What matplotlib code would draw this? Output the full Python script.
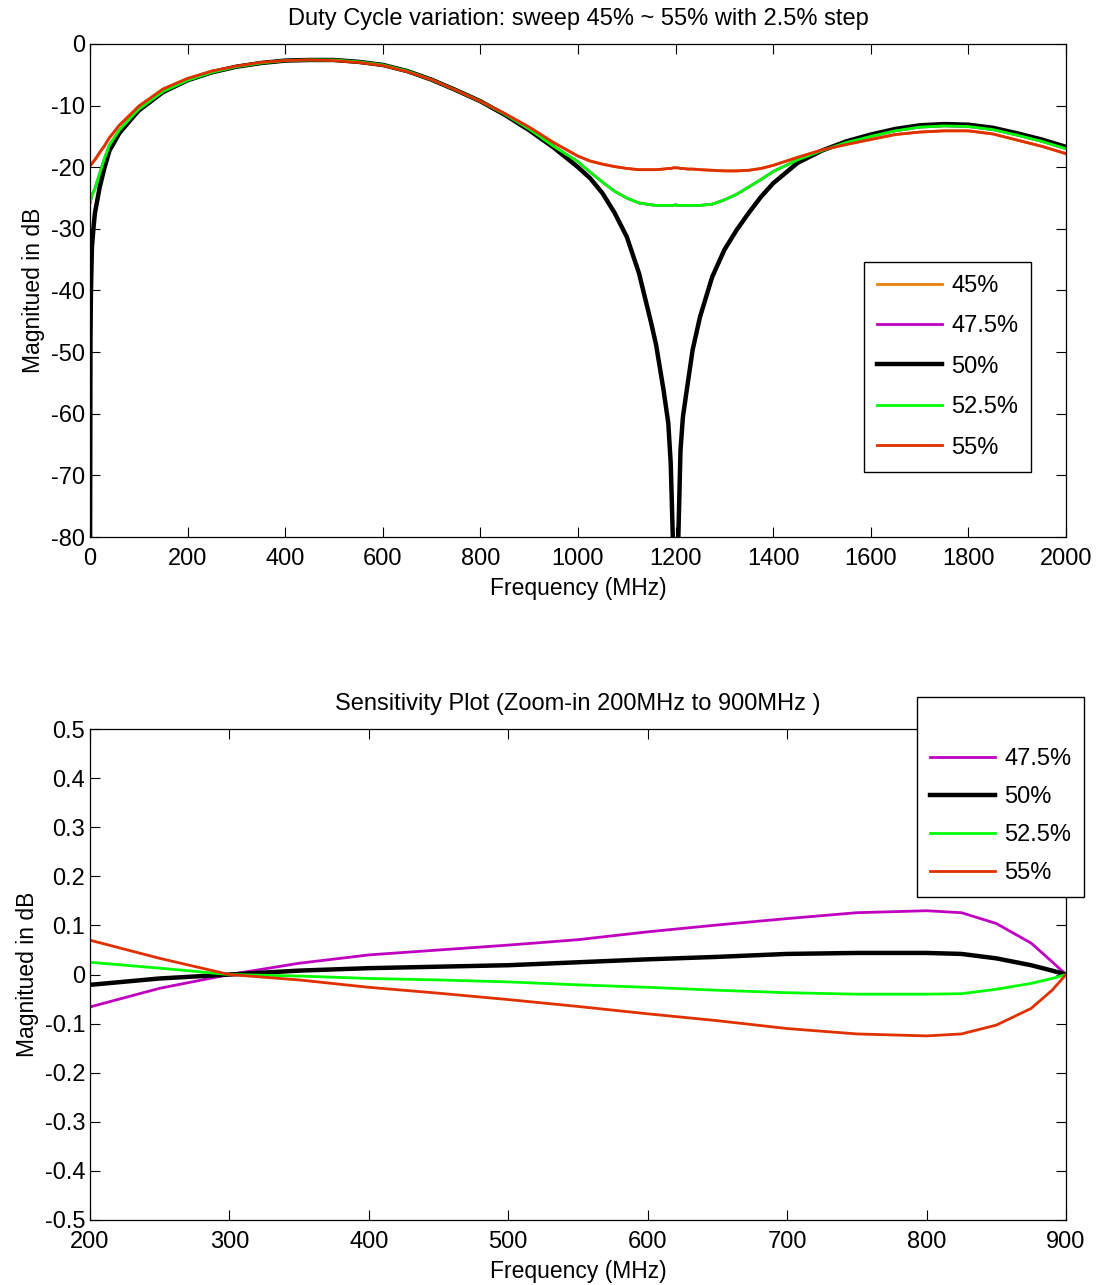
import matplotlib
matplotlib.use("Agg")
import matplotlib.pyplot as plt
from matplotlib.lines import Line2D

plt.rcParams["font.family"] = ["Liberation Sans", "DejaVu Sans"]
plt.rcParams["axes.unicode_minus"] = False

# ---- top panel: magnitude response vs frequency (MHz, dB)
freq_top = [0, 1, 2, 4, 7, 10, 20, 30, 40, 60, 90, 100, 150, 200, 250, 300, 350,
            400, 450, 500, 550, 600, 650, 700, 750, 800, 850, 900, 950, 1000,
            1025, 1050, 1075, 1100, 1125, 1150, 1160, 1175, 1185, 1190, 1195,
            1200, 1205, 1210, 1215, 1225, 1235, 1250, 1275, 1300, 1325, 1350,
            1375, 1400, 1450, 1500, 1550, 1600, 1650, 1700, 1750, 1800, 1850,
            1900, 1950, 2000]

db_50 = [-90, -48, -40, -33, -30, -27.5, -23.2, -20, -17.3, -14.5, -11.7, -10.8,
         -7.8, -5.9, -4.6, -3.7, -3.1, -2.7, -2.6, -2.6, -2.9, -3.4, -4.4, -5.8,
         -7.5, -9.3, -11.5, -14.0, -16.8, -20.0,
         -21.8, -24.2, -27.4, -31.3, -37.2, -45.3, -48.8, -56, -61.5, -68, -82,
         -95, -82, -66, -60.5, -55, -49.6, -44.3, -37.8, -33.4, -30.2, -27.4,
         -24.8, -22.6, -19.3, -17.3, -15.8, -14.7, -13.8, -13.2, -13.0, -13.1,
         -13.6, -14.5, -15.5, -16.7]

db_525 = [-25.8, -25.5, -25.2, -24.5, -24.0, -23.5, -21.0, -18.5, -16.4, -14.0,
          -11.4, -10.6, -7.7, -5.9, -4.6, -3.7, -3.1, -2.7, -2.6, -2.6, -2.9,
          -3.4, -4.4, -5.8, -7.5, -9.3, -11.4, -13.8, -16.6, -19.1,
          -20.8, -22.4, -23.9, -25.0, -25.8, -26.1, -26.2, -26.2, -26.2, -26.2,
          -26.2, -26.1, -26.2, -26.2, -26.2, -26.2, -26.2, -26.2, -26.0, -25.3,
          -24.4, -23.2, -22.0, -20.7, -18.8, -17.3, -16.0, -15.0, -14.1, -13.5,
          -13.3, -13.4, -13.9, -14.8, -15.8, -17.0]

db_55 = [-19.8, -19.7, -19.6, -19.4, -19.1, -18.8, -17.6, -16.5, -15.2, -13.2,
         -10.9, -10.1, -7.3, -5.6, -4.4, -3.6, -3.0, -2.7, -2.6, -2.7, -3.0,
         -3.5, -4.5, -5.8, -7.5, -9.3, -11.3, -13.5, -16.0, -18.2,
         -19.0, -19.5, -19.9, -20.2, -20.4, -20.4, -20.4, -20.3, -20.2, -20.2,
         -20.1, -20.1, -20.1, -20.2, -20.2, -20.3, -20.3, -20.4, -20.5, -20.6,
         -20.6, -20.5, -20.2, -19.7, -18.4, -17.2, -16.3, -15.5, -14.7, -14.3,
         -14.1, -14.1, -14.6, -15.6, -16.6, -17.8]

# 45% / 47.5% have the same magnitude as 55% / 52.5% (hidden underneath)
db_45 = db_55
db_475 = db_525

# ---- bottom panel: sensitivity (dB) between 200 and 900 MHz
freq_bot = [200, 250, 300, 350, 400, 450, 500, 550, 600, 650, 700, 750, 800,
            825, 850, 875, 890, 900]
sens_475 = [-0.066, -0.028, 0.0, 0.023, 0.040, 0.050, 0.060, 0.071, 0.087,
            0.101, 0.114, 0.126, 0.130, 0.126, 0.104, 0.064, 0.026, 0.0]
sens_50 = [-0.021, -0.008, 0.0, 0.008, 0.013, 0.016, 0.019, 0.025, 0.031,
           0.036, 0.042, 0.044, 0.044, 0.042, 0.033, 0.019, 0.008, 0.0]
sens_525 = [0.025, 0.013, 0.0, -0.003, -0.008, -0.011, -0.015, -0.021, -0.026,
            -0.032, -0.037, -0.040, -0.040, -0.039, -0.030, -0.018, -0.008, 0.0]
sens_55 = [0.070, 0.033, 0.0, -0.011, -0.026, -0.038, -0.051, -0.065, -0.080,
           -0.094, -0.110, -0.121, -0.125, -0.121, -0.103, -0.069, -0.032, 0.0]

C45 = "#e8820c"
C475 = "#c000c0"
C50 = "black"
C525 = "#00ff00"
C55 = "#e03000"

FS = 17
LFS = 16.5


def style_axes(ax):
    ax.tick_params(direction="in", length=7, width=0.8, top=True, right=True,
                   labelsize=FS)
    ax.tick_params(axis="x", pad=8)
    for s in ax.spines.values():
        s.set_linewidth(0.9)


def style_legend(leg):
    leg.get_frame().set_edgecolor("black")
    leg.get_frame().set_linewidth(1)


fig = plt.figure(figsize=(11, 12.85), dpi=100)

# top
ax1 = fig.add_axes([0.0818, 0.5821, 0.8873, 0.3837])
ax1.plot(freq_top, db_45, color=C45, lw=2, label="45%")
ax1.plot(freq_top, db_475, color=C475, lw=2, label="47.5%")
ax1.plot(freq_top, db_50, color=C50, lw=3.2, label="50%")
ax1.plot(freq_top, db_525, color=C525, lw=2, label="52.5%")
ax1.plot(freq_top, db_55, color=C55, lw=2, label="55%")
ax1.set_xlim(0, 2000)
ax1.set_ylim(-80, 0)
ax1.set_xticks(range(0, 2001, 200))
ax1.set_yticks(range(-80, 1, 10))
ax1.set_title("Duty Cycle variation: sweep 45% ~ 55% with 2.5% step",
              fontsize=17, pad=14)
ax1.set_xlabel("Frequency (MHz)", fontsize=LFS, labelpad=5)
ax1.set_ylabel("Magnitued in dB", fontsize=LFS)
style_axes(ax1)
leg1 = ax1.legend(loc="upper left", bbox_to_anchor=(0.793, 0.558),
                  borderaxespad=0, fontsize=17, handlelength=2.75,
                  handletextpad=0.4, labelspacing=0.78, borderpad=0.55,
                  fancybox=False, framealpha=1)
style_legend(leg1)

# bottom
ax2 = fig.add_axes([0.0818, 0.0506, 0.8873, 0.382])
ax2.plot(freq_bot, sens_475, color=C475, lw=2, label="47.5%")
ax2.plot(freq_bot, sens_50, color=C50, lw=3.2, label="50%")
ax2.plot(freq_bot, sens_525, color=C525, lw=2, label="52.5%")
ax2.plot(freq_bot, sens_55, color=C55, lw=2, label="55%")
ax2.set_xlim(200, 900)
ax2.set_ylim(-0.5, 0.5)
ax2.set_xticks(range(200, 901, 100))
yt = [round(-0.5 + 0.1 * i, 1) for i in range(11)]
ax2.set_yticks(yt)
ax2.set_yticklabels(["0" if v == 0 else f"{v:g}" for v in yt])
ax2.set_title("Sensitivity Plot (Zoom-in 200MHz to 900MHz )", fontsize=17, pad=14)
ax2.set_xlabel("Frequency (MHz)", fontsize=LFS, labelpad=5)
ax2.set_ylabel("Magnitued in dB", fontsize=LFS)
style_axes(ax2)
blank = Line2D([], [], color="none")
handles, labels = ax2.get_legend_handles_labels()
leg2 = ax2.legend([blank] + handles, [" "] + labels, loc="upper left",
                  bbox_to_anchor=(0.8473, 1.065), borderaxespad=0, fontsize=17,
                  handlelength=2.75, handletextpad=0.4, labelspacing=0.68,
                  borderpad=0.55, fancybox=False, framealpha=1)
style_legend(leg2)

fig.savefig("out.png", dpi=100)
